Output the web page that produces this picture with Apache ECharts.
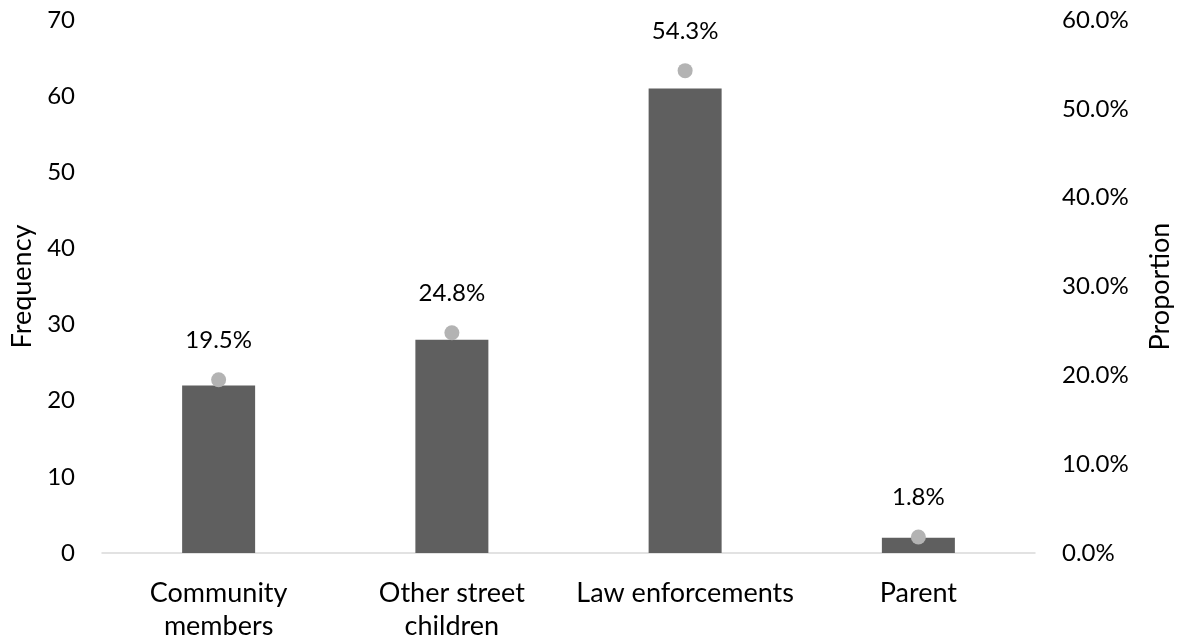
<!DOCTYPE html>
<html>
<head>
<meta charset="utf-8">
<script src="https://cdn.jsdelivr.net/npm/echarts@6/dist/echarts.min.js"></script>
<style>
  html, body { margin: 0; padding: 0; background: #ffffff; }
  #chart { width: 1182px; height: 643px; }
</style>
</head>
<body>
<div id="chart"></div>
<script>
// Who the children were abused by: counts (bars) and share of respondents (dots)
const categories = ['Community\nmembers', 'Other street\nchildren', 'Law enforcements', 'Parent'];
const frequency = [22, 28, 61, 2];
const proportion = [19.5, 24.8, 54.3, 1.8];

const FONT = 'Lato';
const TEXT = '#000000';
const WORD_SIZE = 27;   // category labels and axis titles
const NUM_SIZE = 24;    // tick and value labels

const chart = echarts.init(document.getElementById('chart'), null, { renderer: 'canvas' });

chart.setOption({
  animation: false,
  backgroundColor: '#ffffff',
  textStyle: { fontFamily: FONT },
  grid: { left: 102, right: 146, top: 20, bottom: 90, containLabel: false },
  xAxis: {
    type: 'category',
    data: categories,
    axisLine: { show: true, lineStyle: { color: '#d9d9d9', width: 1.5 } },
    axisTick: { show: false },
    axisLabel: {
      color: TEXT, fontSize: WORD_SIZE, fontFamily: FONT, margin: 24, lineHeight: 33, interval: 0
    }
  },
  yAxis: [
    {
      type: 'value',
      min: 0, max: 70, interval: 10,
      name: 'Frequency',
      nameLocation: 'middle',
      nameGap: 66,
      nameRotate: 90,
      nameTextStyle: { color: TEXT, fontSize: WORD_SIZE, fontFamily: FONT },
      axisLine: { show: false },
      axisTick: { show: false },
      splitLine: { show: false },
      axisLabel: { color: TEXT, fontSize: NUM_SIZE, fontFamily: FONT, margin: 27 }
    },
    {
      type: 'value',
      min: 0, max: 60, interval: 10,
      name: 'Proportion',
      nameLocation: 'middle',
      nameGap: 112,
      nameRotate: 90,
      nameTextStyle: { color: TEXT, fontSize: WORD_SIZE, fontFamily: FONT },
      axisLine: { show: false },
      axisTick: { show: false },
      splitLine: { show: false },
      axisLabel: {
        color: TEXT, fontSize: NUM_SIZE, fontFamily: FONT, margin: 27,
        formatter: v => v.toFixed(1) + '%'
      }
    }
  ],
  series: [
    {
      name: 'Frequency',
      type: 'bar',
      yAxisIndex: 0,
      data: frequency,
      barWidth: 73,
      itemStyle: { color: '#5f5f5f' }
    },
    {
      name: 'Proportion',
      type: 'scatter',
      yAxisIndex: 1,
      data: proportion,
      symbol: 'circle',
      symbolSize: 15,
      itemStyle: { color: '#b3b3b3', opacity: 1 },
      label: {
        show: true,
        position: 'top',
        distance: 20,
        color: TEXT,
        opacity: 1,
        fontSize: NUM_SIZE,
        fontFamily: FONT,
        formatter: p => p.value.toFixed(1) + '%'
      },
      z: 5
    }
  ]
});
</script>
</body>
</html>
